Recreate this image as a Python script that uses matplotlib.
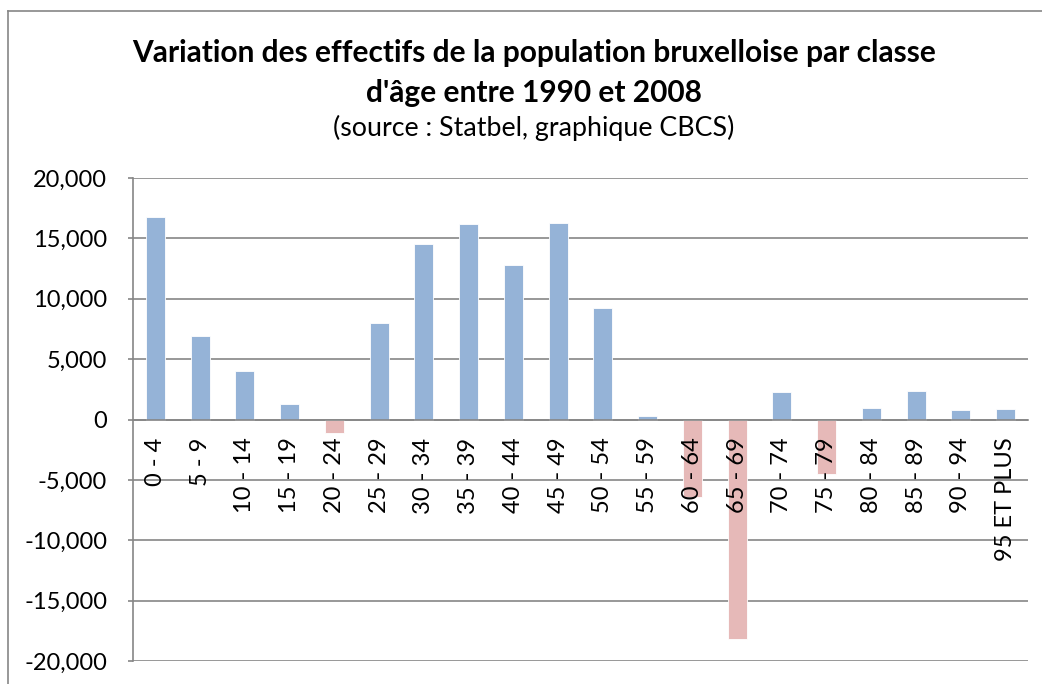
import matplotlib
matplotlib.use("Agg")
import matplotlib.pyplot as plt
from matplotlib.ticker import FuncFormatter, MultipleLocator
from matplotlib.lines import Line2D

plt.rcParams['font.family'] = ['Lato', 'DejaVu Sans']

categories = ["0 - 4", "5 - 9", "10 - 14", "15 - 19", "20 - 24", "25 - 29",
              "30 - 34", "35 - 39", "40 - 44", "45 - 49", "50 - 54", "55 - 59",
              "60 - 64", "65 - 69", "70 - 74", "75 - 79", "80 - 84", "85 - 89",
              "90 - 94", "95 ET PLUS"]
values = [16800, 6900, 4050, 1300, -1100, 8030, 14570, 16230, 12830, 16250,
          9220, 330, -6430, -18160, 2290, -4530, 970, 2400, 800, 830]

title_line1 = "Variation des effectifs de la population bruxelloise par classe"
title_line2 = "d'âge entre 1990 et 2008"
subtitle = "(source : Statbel, graphique CBCS)"

pos_color = "#95B3D7"
neg_color = "#E6B9B8"
grid_color = "#868686"

W, H = 1042, 684
fig = plt.figure(figsize=(W / 100, H / 100), dpi=100)
ax = fig.add_axes([133 / W, 1 - 661 / H, (1028 - 133) / W, (661 - 178) / H])

x = list(range(len(categories)))
colors = [pos_color if v >= 0 else neg_color for v in values]
ax.bar(x, values, width=0.42, color=colors, edgecolor="white", linewidth=0.6, zorder=3)

ax.set_xlim(-0.5, len(categories) - 0.5)
ax.set_ylim(-20000, 20000)
ax.yaxis.set_major_locator(MultipleLocator(5000))
ax.yaxis.set_major_formatter(FuncFormatter(lambda v, p: f"{v:,.0f}"))
ax.grid(axis="y", color=grid_color, linewidth=1.2, zorder=1)
ax.set_axisbelow(True)

for s in ["top", "right"]:
    ax.spines[s].set_visible(False)
ax.spines["left"].set_color(grid_color)
ax.spines["left"].set_linewidth(1.2)
ax.spines["bottom"].set_position(("data", 0))
ax.spines["bottom"].set_color(grid_color)
ax.spines["bottom"].set_linewidth(1.2)
ax.spines["bottom"].set_zorder(4)

ax.set_xticks(x)
ax.set_xticklabels(categories, rotation=90, fontsize=17)
ax.tick_params(axis="x", length=0, pad=13)
ax.tick_params(axis="y", length=3.6, width=1.2, color=grid_color, pad=15, labelsize=17)
ax.xaxis.set_zorder(6)

# Title lines
cx = 534 / W
fig.text(cx, 1 - 62 / H, title_line1, ha="center", va="baseline", fontsize=21.5, fontweight="bold")
fig.text(cx, 1 - 102 / H, title_line2, ha="center", va="baseline", fontsize=21.5, fontweight="bold")
fig.text(cx, 1 - 136 / H, subtitle, ha="center", va="baseline", fontsize=19.3)

# outer chart frame
fig.add_artist(Line2D([8 / W, 8 / W], [0, 1 - 11 / H], transform=fig.transFigure,
                      color=grid_color, linewidth=1.2))
fig.add_artist(Line2D([8 / W, 1], [1 - 11 / H, 1 - 11 / H], transform=fig.transFigure,
                      color=grid_color, linewidth=1.2))

fig.savefig("out.png", dpi=100)
